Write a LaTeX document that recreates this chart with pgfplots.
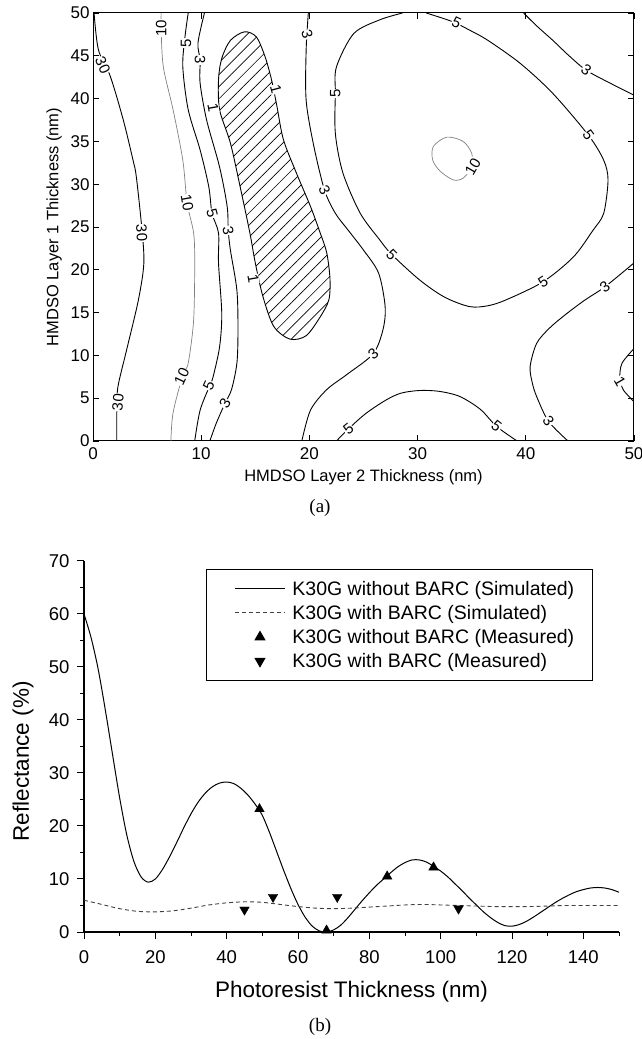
\documentclass[border=0pt]{standalone}
\usepackage{fontspec}
\setmainfont{Liberation Sans}
\newfontfamily\seriffont{Liberation Serif}
\usepackage{pgfplots}
\pgfplotsset{compat=1.18}
\usetikzlibrary{patterns.meta}

\begin{document}
\begin{tikzpicture}[x=1pt,y=1pt]
\useasboundingbox (0,0) rectangle (642,1039);

% ---------------- panel (a) ----------------
\begin{axis}[
  at={(93pt,598pt)}, anchor=south west,
  scale only axis, width=541pt, height=428pt,
  xmin=0, xmax=50, ymin=0, ymax=50,
  xtick={0,10,...,50}, ytick={0,5,...,50},
  tick align=inside, major tick length=6pt,
  axis line style={line width=1pt},
  every tick/.style={black, line width=0.8pt},
  tick label style={font=\fontsize{17}{20}\selectfont},
  xticklabel style={yshift=-3pt},
  /pgf/number format/assume math mode=true,
  xlabel={HMDSO Layer 2 Thickness (nm)},
  ylabel={HMDSO Layer 1 Thickness (nm)},
  label style={font=\fontsize{16.5}{20}\selectfont},
  xlabel style={at={(axis description cs:0.5,-0.085)}, anchor=center},
  ylabel style={at={(axis description cs:-0.072,0.5)}, anchor=center},
  clip=true,
]
% hatched region (R < 1)
\addplot[draw=black, line width=0.9pt, smooth cycle,
  pattern={Lines[angle=45,distance=8.5pt,line width=0.7pt]}] coordinates {
(14.0,47.8) (15.1,47.2) (15.9,44.9) (16.5,42.2) (17.0,39.1) (17.6,35.2) (18.8,31.3)
(20.1,27.4) (21.0,24.3) (21.6,22) (21.9,19) (21.8,16.5) (21.0,14.5) (19.7,12.3)
(18.2,11.9) (16.7,13.4) (15.7,16.9) (15.0,20.8) (14.5,24.3) (13.6,29.7) (12.7,34.8)
(11.7,38.7) (11.6,42.2) (11.9,44.7) (12.7,46.8)};
% contour 30
\addplot[black, line width=0.9pt, smooth] coordinates {
(0.1,50) (0.5,45.7) (1.6,42.6) (2.8,37.5) (3.7,32.8) (4.0,30.9) (4.5,25) (4.7,20.8)
(4.2,16.5) (3.1,10.6) (2.3,6.3) (2.2,3.4) (2.2,0)};
% contour 10 (left)
\addplot[gray, line width=0.7pt, smooth] coordinates {
(6.3,50) (6.3,48) (6.5,43.7) (7.4,38.7) (8.3,32.8) (8.7,27.8) (9.3,24.3) (9.4,20.8)
(9.3,14.1) (8.8,9.1) (8.3,7.7) (7.4,3.3) (7.2,0)};
% contour 5 (left)
\addplot[black, line width=0.9pt, smooth] coordinates {
(8.8,50) (8.5,47.2) (8.3,43.7) (8.8,38.7) (9.9,34) (10.7,29.7) (11.0,26.6) (11.6,24.3)
(11.6,20.8) (11.9,14.9) (11.7,11) (11.1,7.5) (10.8,6.5) (9.9,3.6) (9.4,0)};
% contour 3 (left)
\addplot[black, line width=0.9pt, smooth] coordinates {
(10.3,50) (9.7,46.5) (9.9,44.5) (9.9,41.8) (10.5,37.5) (11.7,32) (12.4,27.4) (12.5,24.6)
(12.7,22.3) (13.3,17.6) (13.4,13) (13.3,9.1) (12.8,6) (12.2,4.4) (11.4,2.1) (10.8,0)};
% contour 3 (middle)
\addplot[black, line width=0.9pt, smooth] coordinates {
(19.9,50) (19.7,45.7) (19.7,39.8) (20.4,34.5) (21.4,29.3) (22.4,26.6) (23.6,24.6)
(25.0,22.3) (26.4,19.6) (27.0,15.7) (26.8,13) (25.9,10.2) (23.5,7.8) (21.6,6.0)
(20.1,3.6) (19.3,0)};
% contour 5 (top loop)
\addplot[black, line width=0.9pt, smooth] coordinates {
(28.6,50) (26.5,49.2) (24.1,47.6) (22.5,43.7) (22.4,40.6) (22.4,35.9) (23.1,31.3)
(24.7,26.6) (26.5,23.5) (27.6,21.8) (30.2,18.8) (32.5,16.8) (34.8,15.7) (36.5,15.8)
(38.2,16.5) (41.6,18.6) (44.4,21.5) (46.2,24.6) (47.2,26.6) (47.6,30.5) (47.2,32.8)
(45.8,35.7) (42.5,40.6) (39.5,44.1) (36.5,46.8) (34.8,48) (33.2,49) (30.8,50)};
% contour 10 (peak)
\addplot[gray, line width=0.7pt, smooth cycle] coordinates {
(31.45,34.4) (32.7,35.5) (34.2,35.0) (35.0,33.6) (35.0,32.0) (34.2,30.7) (33.3,30.5)
(32.1,31.5) (31.4,32.8)};
% contour 3 (top right)
\addplot[black, line width=0.9pt, smooth] coordinates {
(39.8,50) (41,48.5) (42.5,46.8) (44,45) (45.6,43.3) (47.8,41.8) (50,40.4)};
% contour 3 (bottom right)
\addplot[black, line width=0.9pt, smooth] coordinates {
(50,20.8) (47.3,18.0) (45.5,16.5) (43.8,14.9) (42.2,13.2) (41.0,11.4) (40.4,8.7)
(40.6,6.8) (41.0,5.2) (42.1,2.3) (43.9,0)};
% contour 5 (bottom)
\addplot[black, line width=0.9pt, smooth] coordinates {
(22.5,0) (23.6,1.4) (25.2,3.2) (27.1,4.8) (28.5,5.6) (30.2,5.9) (32,5.8) (33.9,5.2)
(35.8,3.7) (37.3,1.7) (39.2,0)};
% contour 1 (right edge)
\addplot[black, line width=0.9pt, smooth] coordinates {
(50,10.8) (48.9,9.1) (48.7,7.5) (49.0,6.0) (50,4.6)};

% contour labels
\begin{scope}[every node/.style={font=\fontsize{15}{17}\selectfont, fill=white, inner sep=0.6pt}]
\node[rotate=-66] at (axis cs:0.9,43.9) {30};
\node[rotate=-87] at (axis cs:4.5,24.3) {30};
\node[rotate=85]  at (axis cs:2.3,4.5) {30};
\node[rotate=90]  at (axis cs:6.3,48.2) {10};
\node[rotate=-80] at (axis cs:8.7,27.8) {10};
\node[rotate=65]  at (axis cs:8.2,7.5) {10};
\node[rotate=90]  at (axis cs:8.6,46.5) {5};
\node[rotate=-75] at (axis cs:11.0,26.6) {5};
\node[rotate=65]  at (axis cs:10.7,6.5) {5};
\node[rotate=-90] at (axis cs:9.9,44.5) {3};
\node[rotate=-80] at (axis cs:12.5,24.6) {3};
\node[rotate=60]  at (axis cs:12.2,4.4) {3};
\node[rotate=-75] at (axis cs:19.8,47.5) {3};
\node[rotate=-65] at (axis cs:21.4,29.3) {3};
\node[rotate=40]  at (axis cs:25.9,10.2) {3};
\node[rotate=90]  at (axis cs:22.4,40.6) {5};
\node[rotate=-25] at (axis cs:33.6,48.9) {5};
\node[rotate=-55] at (axis cs:45.8,35.7) {5};
\node[rotate=-45] at (axis cs:27.6,21.8) {5};
\node[rotate=33]  at (axis cs:41.6,18.6) {5};
\node[rotate=60]  at (axis cs:35.1,32.0) {10};
\node[rotate=-37] at (axis cs:45.6,43.3) {3};
\node[rotate=37]  at (axis cs:47.3,18.0) {3};
\node[rotate=-55] at (axis cs:42.1,2.3) {3};
\node[rotate=39]  at (axis cs:23.6,1.4) {5};
\node[rotate=-38] at (axis cs:37.3,1.7) {5};
\node[rotate=-80] at (axis cs:11.1,38.9) {1};
\node[rotate=-75] at (axis cs:16.9,41.1) {1};
\node[rotate=-80] at (axis cs:14.8,18.9) {1};
\node[rotate=-60] at (axis cs:48.7,7.0) {1};
\end{scope}
\end{axis}

\node[font=\seriffont\fontsize{19}{22}\selectfont] at (320,531) {(a)};

% ---------------- panel (b) ----------------
\begin{axis}[
  at={(84pt,107pt)}, anchor=south west,
  scale only axis, width=535pt, height=371pt,
  xmin=0, xmax=150, ymin=0, ymax=70,
  axis x line*=bottom, axis y line*=left,
  axis line style={line width=1.3pt, -},
  xtick={0,20,...,140}, minor xtick={10,30,...,150},
  ytick={0,10,...,70}, minor ytick={5,15,...,65},
  tick align=outside, major tick length=7pt, minor tick length=4pt,
  every tick/.style={black, line width=1pt},
  tick label style={font=\fontsize{18.5}{22}\selectfont},
  xticklabel style={yshift=-8pt},
  yticklabel style={xshift=-4pt},
  /pgf/number format/assume math mode=true,
  xlabel={Photoresist Thickness (nm)},
  ylabel={Reflectance (\%)},
  label style={font=\fontsize{22.5}{26}\selectfont},
  xlabel style={at={(axis description cs:0.5,-0.162)}, anchor=center},
  ylabel style={at={(axis description cs:-0.114,0.46)}, anchor=center},
  legend style={at={(axis cs:34.2,68.5)}, anchor=north west, draw=black,
    line width=1pt, inner xsep=16pt, inner ysep=9.5pt,
    font=\fontsize{19.5}{23}\selectfont, row sep=4.5pt},
  legend cell align=left,
  clip=false,
]
\addplot[black, line width=1pt, smooth,
  legend image code/.code={\path (0pt,0pt) (67pt,0pt); \draw[black,line width=1pt] (12pt,0pt) -- (62pt,0pt);}]
  coordinates {
(0,60) (2,55.5) (4,49.5) (6,41.8) (8,33.5) (10,25.3) (12,18.3) (14,13.3) (16,10.4)
(18,9.4) (20,10.0) (22,11.8) (24,14.2) (26,16.9) (28,19.7) (30,22.3) (32,24.5)
(34,26.2) (36,27.4) (38,28.1) (40,28.3) (42,28.0) (44,27.1) (46,25.8) (48,24.1)
(50,22.0) (52,18.8) (54,15.2) (56,11.6) (58,8.2) (60,5.2) (62,2.8) (64,1.1) (66,0.2)
(68,0.0) (70,0.4) (72,1.3) (74,2.7) (76,4.3) (78,5.9) (80,7.4) (82,8.8) (84,10.0)
(86,11.2) (88,12.3) (90,13.1) (92,13.6) (94,13.6) (96,13.2) (98,12.4) (100,11.5)
(102,10.4) (104,9.1) (106,7.8) (108,6.4) (110,5.1) (112,3.8) (114,2.7) (116,1.8)
(118,1.2) (120,1.1) (122,1.4) (124,2.0) (126,2.8) (128,3.7) (130,4.6) (132,5.5)
(134,6.3) (136,7.0) (138,7.6) (140,8.0) (142,8.3) (144,8.4) (146,8.3) (148,8.0) (150,7.5)};
\addlegendentry{K30G without BARC (Simulated)}
\addplot[black!75, line width=0.9pt, dash pattern=on 4pt off 3pt, smooth,
  legend image code/.code={\path (0pt,0pt) (67pt,0pt); \draw[black!75,line width=0.9pt,dash pattern=on 4pt off 3pt] (12pt,0pt) -- (62pt,0pt);}]
  coordinates {
(0,6.0) (5,5.2) (10,4.4) (15,3.9) (20,3.8) (25,4.0) (30,4.5) (35,5.1) (40,5.5)
(45,5.7) (50,5.6) (55,5.2) (60,4.8) (65,4.5) (70,4.4) (75,4.5) (80,4.7) (85,4.9)
(90,5.1) (95,5.2) (100,5.1) (105,5.0) (110,4.9) (115,4.8) (120,4.8) (125,4.8)
(130,4.9) (135,5.0) (140,5.0) (145,5.0) (150,5.0)};
\addlegendentry{K30G with BARC (Simulated)}
\addplot[only marks, mark=triangle*, mark size=5.5pt, black,
  legend image code/.code={\path (0pt,0pt) (67pt,0pt); \fill[black] plot[mark=triangle*, mark size=5.5pt] coordinates {(37pt,0pt)};}]
  coordinates {(49.2,23.2) (68,0.3) (85,10.5) (98,12.2)};
\addlegendentry{K30G without BARC (Measured)}
\addplot[only marks, mark=triangle*, mark size=5.5pt, mark options={rotate=180}, black,
  legend image code/.code={\path (0pt,0pt) (67pt,0pt); \fill[black] plot[mark=triangle*, mark size=5.5pt, mark options={rotate=180}] coordinates {(37pt,0pt)};}]
  coordinates {(45,4.2) (53,6.6) (71,6.6) (105,4.4)};
\addlegendentry{K30G with BARC (Measured)}
\end{axis}

\node[font=\seriffont\fontsize{19}{22}\selectfont] at (320,12) {(b)};
\end{tikzpicture}
\end{document}
